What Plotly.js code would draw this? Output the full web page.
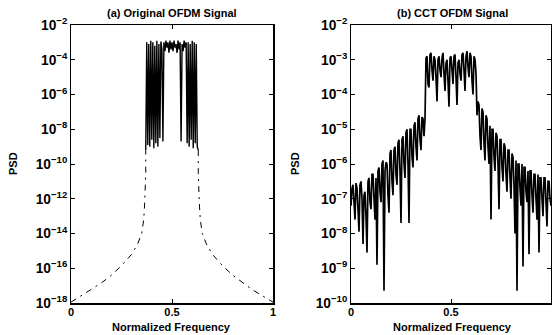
<!DOCTYPE html>
<html>
<head>
<meta charset="utf-8">
<script src="https://cdn.plot.ly/plotly-3.0.1.min.js"></script>
<style>html,body{margin:0;padding:0;background:#fff}#chart{width:552px;height:335px}</style>
</head>
<body>
<div id="chart"></div>
<script>
// ---- Panel (a): Original OFDM signal (PSD given as log10 exponents) ----
const bandFreqA = [0.37,0.375,0.38,0.385,0.39,0.395,0.4,0.405,0.41,0.415,0.42,0.425,0.43,0.435,0.44,0.445,0.45,0.455,0.46,0.465,0.47,0.475,0.48,0.485,0.49,0.495,0.5,0.505,0.51,0.515,0.52,0.525,0.53,0.535,0.54,0.545,0.55,0.555,0.56,0.565,0.57,0.575,0.58,0.585,0.59,0.595,0.6,0.605,0.61,0.615,0.62,0.625,0.63];
const bandLogA = [-9.2,-3.0,-8.9,-3.1,-9.0,-2.9,-8.6,-3.0,-9.1,-3.2,-8.8,-2.9,-9.0,-3.1,-8.5,-2.95,-3.4,-8.7,-3.0,-3.5,-2.9,-3.3,-3.0,-3.6,-2.9,-3.4,-3.0,-3.5,-2.9,-3.3,-3.1,-3.6,-2.9,-3.4,-3.0,-8.7,-3.1,-3.5,-2.9,-3.3,-3.0,-8.8,-3.0,-9.0,-3.1,-8.6,-2.9,-9.1,-3.0,-8.8,-3.1,-9.0,-9.2];
const skirtFreqA = [0,0.05,0.1,0.15,0.2,0.25,0.3,0.33,0.35,0.36,0.365,0.37,0.37,null,0.63,0.63,0.635,0.64,0.65,0.67,0.7,0.75,0.8,0.85,0.9,0.95,1];
const skirtLogA = [-17.95,-17.6,-17.25,-16.85,-16.4,-15.85,-15.2,-14.6,-14.0,-13.2,-12.2,-10.5,-9.2,null,-9.2,-10.5,-12.2,-13.2,-14.0,-14.6,-15.2,-15.85,-16.4,-16.85,-17.25,-17.6,-17.95];

// ---- Panel (b): CCT OFDM signal ----
const freqB = [0,0.005,0.01,0.015,0.02,0.025,0.03,0.035,0.04,0.045,0.05,0.055,0.06,0.065,0.07,0.075,0.08,0.085,0.09,0.095,0.1,0.105,0.11,0.115,0.12,0.125,0.13,0.135,0.14,0.145,0.15,0.155,0.16,0.165,0.17,0.175,0.18,0.185,0.19,0.195,0.2,0.205,0.21,0.215,0.22,0.225,0.23,0.235,0.24,0.245,0.25,0.255,0.26,0.265,0.27,0.275,0.28,0.285,0.29,0.295,0.3,0.305,0.31,0.315,0.32,0.325,0.33,0.335,0.34,0.345,0.35,0.355,0.36,0.365,0.37,0.375,0.38,0.385,0.39,0.395,0.4,0.405,0.41,0.415,0.42,0.425,0.43,0.435,0.44,0.445,0.45,0.455,0.46,0.465,0.47,0.475,0.48,0.485,0.49,0.495,0.5,0.505,0.51,0.515,0.52,0.525,0.53,0.535,0.54,0.545,0.55,0.555,0.56,0.565,0.57,0.575,0.58,0.585,0.59,0.595,0.6,0.605,0.61,0.615,0.62,0.625,0.63,0.635,0.64,0.645,0.65,0.655,0.66,0.665,0.67,0.675,0.68,0.685,0.69,0.695,0.7,0.705,0.71,0.715,0.72,0.725,0.73,0.735,0.74,0.745,0.75,0.755,0.76,0.765,0.77,0.775,0.78,0.785,0.79,0.795,0.8,0.805,0.81,0.815,0.82,0.825,0.83,0.835,0.84,0.845,0.85,0.855,0.86,0.865,0.87,0.875,0.88,0.885,0.89,0.895,0.9,0.905,0.91,0.915,0.92,0.925,0.93,0.935,0.94,0.945,0.95,0.955,0.96,0.965,0.97,0.975,0.98,0.985,0.99,0.995,1];
const logB = [
-7.2,-6.7,-6.6,-7.4,-7.6,-6.55,-6.7,-7.3,-7.95,-6.6,
-6.5,-7.0,-8.3,-6.9,-6.8,-7.5,-8.55,-6.5,-6.4,-7.1,
-7.3,-6.3,-6.3,-7.0,-7.6,-6.4,-8.9,-6.2,-6.1,-6.8,
-7.1,-6.0,-5.9,-9.65,-6.2,-5.95,-6.0,-6.9,-7.4,-5.7,
-5.6,-6.5,-6.9,-5.6,-5.5,-6.3,-6.6,-5.4,-5.3,-6.2,
-7.7,-5.3,-5.2,-6.0,-6.4,-5.1,-5.0,-6.0,-7.7,-5.0,
-5.0,-5.8,-6.1,-4.9,-4.8,-5.5,-5.9,-4.7,-4.6,-5.3,
-5.6,-4.65,-4.7,-5.2,
-4.7,-2.95,-2.9,-3.7,-3.8,-2.85,-2.8,-3.3,-3.6,-2.9,
-3.0,-3.5,-4.2,-3.0,-2.9,-3.3,-3.5,-2.95,-2.8,-3.4,
-3.9,-3.1,-3.0,-3.6,-4.35,-2.95,-2.9,-3.3,-3.7,-2.9,
-2.85,-3.5,-4.3,-3.1,-3.0,-3.4,-3.6,-2.85,-2.8,-3.3,
-3.9,-2.9,-2.75,-3.2,-3.5,-2.8,-2.9,-3.6,-4.0,-2.9,
-3.0,-3.4,-4.6,
-4.2,-4.3,-5.2,-5.6,-4.4,-4.5,-5.4,-5.9,-4.6,-4.7,
-5.5,-6.0,-4.9,-7.6,-5.0,-5.0,-5.8,-6.2,-5.1,-5.2,
-6.0,-7.3,-5.3,-5.3,-6.1,-6.5,-5.4,-5.5,-6.3,-6.8,
-5.6,-5.6,-6.4,-7.0,-5.7,-5.8,-6.6,-8.0,-5.9,-9.65,
-6.0,-6.0,-6.7,-7.2,-6.0,-8.95,-6.1,-6.1,-6.8,-7.1,
-6.2,-8.6,-6.2,-6.2,-6.9,-7.4,-6.3,-6.3,-7.0,-7.6,
-6.3,-8.55,-6.4,-6.4,-7.0,-7.5,-6.4,-6.4,-7.1,-7.8,
-6.5,-6.5,-7.0,-7.2
];

const xTickVals = [0, 0.5, 1];
const xTickText = ['0', '0.5', '1'];

const pow10 = a => a.map(v => v === null ? null : Math.pow(10, v));

const FONT = 'Arial, "Liberation Sans", sans-serif';
const tickFont = {family: FONT, size: 11, color: '#000', weight: 'bold'};
const txtFont = {family: FONT, size: 11, color: '#000', weight: 'bold'};

const traces = [
  {x: bandFreqA, y: pow10(bandLogA), xaxis: 'x', yaxis: 'y', mode: 'lines',
   line: {color: '#000', width: 1.4}, hoverinfo: 'skip', showlegend: false},
  {x: skirtFreqA, y: pow10(skirtLogA), xaxis: 'x', yaxis: 'y', mode: 'lines',
   line: {color: '#000', width: 1, dash: '6px,5px,2px,5px'}, connectgaps: false, hoverinfo: 'skip', showlegend: false},
  {x: freqB, y: pow10(logB), xaxis: 'x2', yaxis: 'y2', mode: 'lines',
   line: {color: '#000', width: 1.7}, hoverinfo: 'skip', showlegend: false}
];

const axisCommon = {
  showline: true, linecolor: '#000', linewidth: 1.5, mirror: 'ticks',
  ticks: 'inside', ticklen: 4, tickwidth: 1, tickcolor: '#000',
  showgrid: false, zeroline: false, tickfont: tickFont
};

const yTop = 1 - 25/335, yBot = 1 - 303/335;

function ann(text, px, py, angle) {
  return {text: text, xref: 'paper', yref: 'paper', x: px/552, y: 1 - py/335,
          xanchor: 'center', yanchor: 'middle', textangle: angle || 0,
          showarrow: false, font: txtFont};
}

const layout = {
  width: 552, height: 335,
  margin: {l: 0, r: 0, t: 0, b: 0},
  paper_bgcolor: '#fff', plot_bgcolor: '#fff',
  showlegend: false,
  xaxis: Object.assign({}, axisCommon, {domain: [71/552, 273/552], range: [0, 1],
    tickmode: 'array', tickvals: xTickVals, ticktext: xTickText, anchor: 'y', ticklabelstandoff: -2}),
  yaxis: Object.assign({}, axisCommon, {domain: [yBot, yTop], type: 'log', range: [-18, -2],
    dtick: 2, exponentformat: 'power', showexponent: 'all', anchor: 'x'}),
  xaxis2: Object.assign({}, axisCommon, {domain: [351/552, 551/552], range: [0, 1],
    tickmode: 'array', tickvals: xTickVals, ticktext: xTickText, anchor: 'y2', ticklabelstandoff: -2}),
  yaxis2: Object.assign({}, axisCommon, {domain: [yBot, yTop], type: 'log', range: [-10, -2],
    dtick: 1, exponentformat: 'power', showexponent: 'all', anchor: 'x2'}),
  annotations: [
    ann('(a) Original OFDM Signal', 172, 13),
    ann('(b) CCT OFDM Signal', 452, 13),
    ann('Normalized Frequency', 171, 327),
    ann('Normalized Frequency', 452, 327),
    ann('PSD', 13, 164, -90),
    ann('PSD', 295, 164, -90)
  ]
};

Plotly.newPlot('chart', traces, layout, {displayModeBar: false, staticPlot: true});
</script>
</body>
</html>
